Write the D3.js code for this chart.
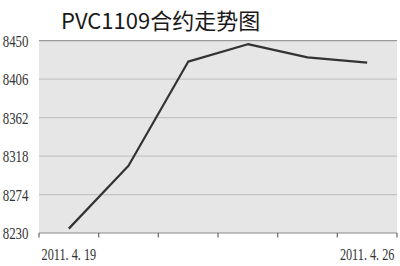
<!DOCTYPE html>
<html><head><meta charset="utf-8">
<script src="https://cdn.jsdelivr.net/npm/d3@7"></script>
<style>body{margin:0;background:#fff}svg{display:block}</style>
</head><body>
<svg id="c" width="400" height="266"></svg>
<script>
const title = "PVC1109合约走势图";
const categories = ["2011.4.19","2011.4.20","2011.4.21","2011.4.22","2011.4.25","2011.4.26"];
const categoryLabels = ["2011. 4. 19","","","","","2011. 4. 26"];
const values = [8235, 8307, 8426, 8446, 8431, 8425];
const yTicks = [8230, 8274, 8318, 8362, 8406, 8450];

const svg = d3.select("#c");
const L = 39, R = 397, T = 40.7, B = 233;
const x = d3.scaleBand().domain(categories).range([L, R]);
const y = d3.scaleLinear().domain([8230, 8450]).range([B, T]);

svg.append("rect").attr("x", L).attr("y", T).attr("width", R - L).attr("height", B - T).attr("fill", "#e6e6e6");

// gridlines
svg.append("g").selectAll("line").data(yTicks.filter(d => d !== 8230)).join("line")
  .attr("x1", L).attr("x2", R).attr("y1", d => y(d)).attr("y2", d => y(d))
  .attr("stroke", d => d === 8450 ? "#9a9a9a" : "#c4c4c4").attr("stroke-width", 1.3);

// y labels (condensed serif)
svg.append("g").selectAll("text").data(yTicks).join("text")
  .attr("transform", d => `translate(28.5,${y(d)}) scale(0.76,1)`)
  .attr("dy", "0.35em")
  .attr("text-anchor", "end")
  .attr("font-family", "Liberation Serif, serif").attr("font-size", 17)
  .attr("fill", "#333").text(d => d);

// x axis
const xAxis = svg.append("g").attr("transform", `translate(0,${B})`);
xAxis.append("line").attr("x1", L).attr("x2", R).attr("stroke", "#8a8a8a").attr("stroke-width", 1.2);
const edges = categories.map(c => x(c)).concat([x(categories[categories.length - 1]) + x.bandwidth()]);
xAxis.selectAll("line.tk").data(edges).join("line").attr("class", "tk")
  .attr("x1", d => d).attr("x2", d => d).attr("y1", 0).attr("y2", 4.5)
  .attr("stroke", "#666").attr("stroke-width", 1.2);
xAxis.selectAll("text").data(categories.filter((d, i) => categoryLabels[i] !== "")).join("text")
  .attr("transform", d => `translate(${x(d) + x.bandwidth() / 2},27) scale(0.72,1)`)
  .attr("text-anchor", "middle")
  .attr("font-family", "Liberation Serif, serif").attr("font-size", 17)
  .attr("fill", "#333").text(d => categoryLabels[categories.indexOf(d)]);

// line
const line = d3.line().x((d, i) => x(categories[i]) + x.bandwidth() / 2).y(d => y(d));
svg.append("path").datum(values).attr("d", line)
  .attr("fill", "none").attr("stroke", "#333").attr("stroke-width", 2.2).attr("stroke-linejoin", "round");

// title
svg.append("text").attr("x", 61).attr("y", 28.5)
  .attr("font-family", "Noto Sans CJK SC, sans-serif").attr("font-size", 22)
  .attr("fill", "#1a1a1a").text(title);
</script>
</body></html>
